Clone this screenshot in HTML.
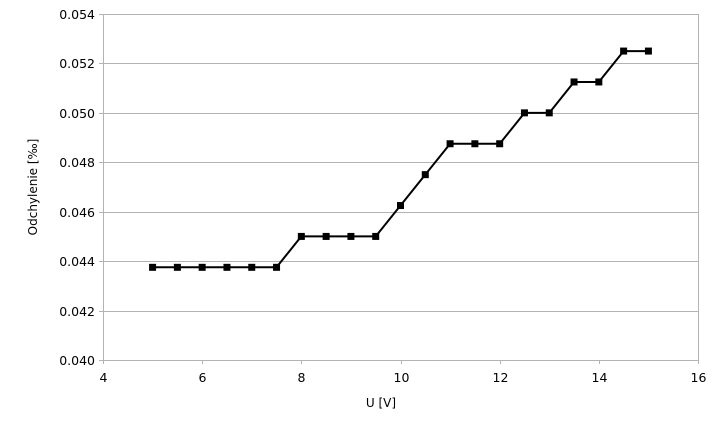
<!DOCTYPE html>
<html><head><meta charset="utf-8"><style>
html,body{margin:0;padding:0;background:#fff;}
svg{display:block;font-family:"DejaVu Sans","Liberation Sans",sans-serif;}
</style></head><body>
<svg id="chart" width="720" height="432" viewBox="0 0 720 432" xmlns="http://www.w3.org/2000/svg">
<g id="grid"></g>
<g id="axes"></g>
<g id="series"></g>
<text x="381" y="407" font-size="12" text-anchor="middle" fill="#000">U [V]</text>
<text transform="translate(37,187) rotate(-90)" font-size="12" text-anchor="middle" fill="#000">Odchylenie [‰]</text>
</svg>
<script>
const xValues=[5,5.5,6,6.5,7,7.5,8,8.5,9,9.5,10,10.5,11,11.5,12,12.5,13,13.5,14,14.5,15];
const yValues=[0.04375,0.04375,0.04375,0.04375,0.04375,0.04375,0.045,0.045,0.045,0.045,0.04625,0.0475,0.04875,0.04875,0.04875,0.05,0.05,0.05125,0.05125,0.0525,0.0525];
const xTicks=[4,6,8,10,12,14,16];
const yTicks=[0.040,0.042,0.044,0.046,0.048,0.050,0.052,0.054];
const L=103,R=698,T=14,B=360;
const xS=v=>L+(v-4)/12*(R-L);
const yS=v=>B-(v-0.040)/0.014*(B-T);
const NS="http://www.w3.org/2000/svg";
function mk(tag,attrs,parent){const e=document.createElementNS(NS,tag);for(const k in attrs)e.setAttribute(k,attrs[k]);parent.appendChild(e);return e;}
const grid=document.getElementById('grid'),axes=document.getElementById('axes'),series=document.getElementById('series');
yTicks.forEach(t=>{
  const y=Math.round(yS(t))+0.5;
  const g=mk('line',{x1:L,x2:R,y1:y,y2:y,stroke:'#b3b3b3','stroke-width':1},grid);
  
  
  const tk=mk('line',{x1:L-4,x2:L,y1:y,y2:y,stroke:'#b3b3b3'},axes);
  
  
  const tx=mk('text',{x:L-8,y:y+4.5,'font-size':12.5,'text-anchor':'end',fill:'#000'},axes);
  tx.textContent=t.toFixed(3);
  
  
});
xTicks.forEach(t=>{
  const x=Math.round(xS(t))+0.5;
  const tk=mk('line',{x1:x,x2:x,y1:B,y2:B+4,stroke:'#b3b3b3'},axes);
  
  
  const tx=mk('text',{x:x,y:B+22,'font-size':12.5,'text-anchor':'middle',fill:'#000'},axes);
  tx.textContent=t;
  
  
});
const fr=mk('rect',{x:L+0.5,y:T+0.5,width:R-L,height:B-T,fill:'none',stroke:'#b3b3b3'},axes);


const pts=xValues.map((x,i)=>xS(x).toFixed(1)+','+yS(yValues[i]).toFixed(1)).join(' ');
const pl=mk('polyline',{points:pts,fill:'none',stroke:'#000','stroke-width':2},series);


xValues.forEach((x,i)=>{
  const m=mk('rect',{x:xS(x)-3.5,y:yS(yValues[i])-3.5,width:7,height:7,fill:'#000'},series);
  
  
});
</script>
</body></html>
